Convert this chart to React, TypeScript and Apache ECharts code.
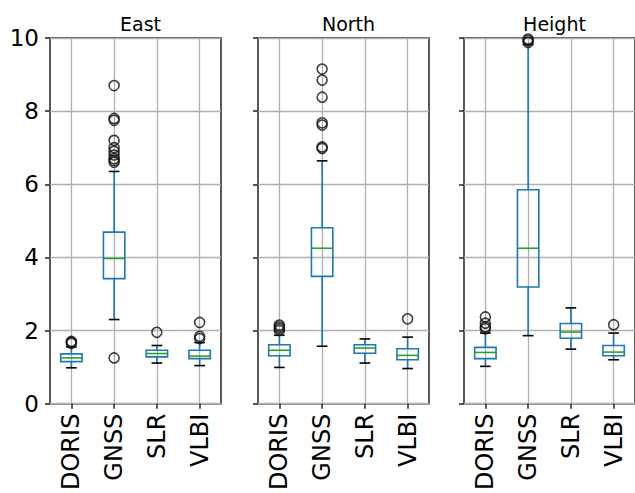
import React, { useEffect, useRef } from "react";
import * as echarts from "echarts";

const categories = ["DORIS", "GNSS", "SLR", "VLBI"];
const panelTitles = ["East", "North", "Height"];
const yTicks = { min: 0, max: 10, interval: 2 };

// [low whisker, Q1, median, Q3, high whisker]
const eastStats = [
  [0.98, 1.15, 1.25, 1.36, 1.55],
  [2.3, 3.42, 3.97, 4.69, 6.35],
  [1.11, 1.28, 1.37, 1.46, 1.59],
  [1.04, 1.23, 1.3, 1.46, 1.67],
];
const northStats = [
  [0.99, 1.31, 1.46, 1.61, 1.87],
  [1.57, 3.48, 4.25, 4.81, 6.64],
  [1.11, 1.38, 1.52, 1.61, 1.77],
  [0.96, 1.2, 1.32, 1.5, 1.82],
];
const heightStats = [
  [1.02, 1.23, 1.4, 1.54, 1.93],
  [1.86, 3.19, 4.25, 5.85, 9.82],
  [1.49, 1.79, 1.96, 2.19, 2.62],
  [1.2, 1.31, 1.41, 1.59, 1.93],
];

// [category index, value]
const eastOutliers = [
  [0, 1.65], [0, 1.68], [0, 1.7],
  [1, 1.25], [1, 6.6], [1, 6.65], [1, 6.7], [1, 6.8], [1, 6.9], [1, 7.0], [1, 7.2], [1, 7.75], [1, 7.8], [1, 8.7],
  [2, 1.95],
  [3, 1.78], [3, 1.84], [3, 2.22],
];
const northOutliers = [
  [0, 2.0], [0, 2.05], [0, 2.1], [0, 2.15],
  [1, 6.98], [1, 7.02], [1, 7.62], [1, 7.68], [1, 8.38], [1, 8.85], [1, 9.15],
  [3, 2.32],
];
const heightOutliers = [
  [0, 2.05], [0, 2.1], [0, 2.2], [0, 2.37],
  [1, 9.88], [1, 9.93], [1, 9.97],
  [3, 2.16],
];

const statsList = [eastStats, northStats, heightStats];
const outlierList = [eastOutliers, northOutliers, heightOutliers];

const FONT = "DejaVu Sans";
const BLUE = "#1f77b4";
const GREEN = "#2ca02c";
const GRIDLEFT = [50, 258, 464];
const GRIDW = 171;

export default function App() {
  const ref = useRef<HTMLDivElement>(null);
  useEffect(() => {
    if (!ref.current) return;
    const chart = echarts.init(ref.current, null, { renderer: "svg" });

    const renderBox = (params: any, api: any) => {
      const x = api.value(0);
      const low = api.coord([x, api.value(1)]);
      const q1 = api.coord([x, api.value(2)]);
      const med = api.coord([x, api.value(3)]);
      const q3 = api.coord([x, api.value(4)]);
      const high = api.coord([x, api.value(5)]);
      const band = api.size([1, 0])[0];
      const bw = band * 0.5;
      const cw = bw * 0.5;
      const cx = low[0];
      const lw = 1.6;
      return {
        type: "group",
        children: [
          { type: "line", shape: { x1: cx, y1: low[1], x2: cx, y2: q1[1] }, style: { stroke: BLUE, lineWidth: lw } },
          { type: "line", shape: { x1: cx, y1: q3[1], x2: cx, y2: high[1] }, style: { stroke: BLUE, lineWidth: lw } },
          { type: "line", shape: { x1: cx - cw / 2, y1: low[1], x2: cx + cw / 2, y2: low[1] }, style: { stroke: "#000", lineWidth: lw } },
          { type: "line", shape: { x1: cx - cw / 2, y1: high[1], x2: cx + cw / 2, y2: high[1] }, style: { stroke: "#000", lineWidth: lw } },
          { type: "rect", shape: { x: cx - bw / 2, y: q3[1], width: bw, height: q1[1] - q3[1] }, style: { stroke: BLUE, fill: "none", lineWidth: lw } },
          { type: "line", shape: { x1: cx - bw / 2, y1: med[1], x2: cx + bw / 2, y2: med[1] }, style: { stroke: GREEN, lineWidth: lw } },
        ],
      };
    };

    const grids: any[] = [];
    const xAxes: any[] = [];
    const yAxes: any[] = [];
    const series: any[] = [];
    const titles: any[] = [];

    panelTitles.forEach((t, i) => {
      grids.push({
        left: GRIDLEFT[i], width: GRIDW, top: 38, height: 366,
        show: true, borderColor: "#222", borderWidth: 1.5, backgroundColor: "transparent",
      });
      titles.push({
        text: t, left: GRIDLEFT[i] + GRIDW / 2, top: 9, textAlign: "center",
        textStyle: { fontFamily: FONT, fontSize: 19, fontWeight: "normal", color: "#000" },
      });
      xAxes.push({
        type: "category", gridIndex: i, data: categories, boundaryGap: true,
        axisLine: { show: false },
        axisTick: { show: true, alignWithLabel: true, length: 5, lineStyle: { color: "#222", width: 1.5 } },
        axisLabel: { rotate: 90, fontFamily: FONT, fontSize: 24, color: "#000", margin: 10 },
        splitLine: { show: false },
      });
      yAxes.push({
        type: "value", gridIndex: i, min: yTicks.min, max: yTicks.max, interval: yTicks.interval,
        axisLine: { show: false },
        axisTick: { show: true, length: 5, lineStyle: { color: "#222", width: 1.5 } },
        axisLabel: { show: i === 0, fontFamily: FONT, fontSize: 23, color: "#000", margin: 11 },
        splitLine: { show: true, lineStyle: { color: "#b0b0b0", width: 1.3 } },
      });
      series.push({
        type: "scatter", xAxisIndex: i, yAxisIndex: i, data: [], z: 0, silent: true,
        markLine: {
          silent: true, symbol: "none", label: { show: false }, z: 0,
          lineStyle: { color: "#b0b0b0", width: 1.3, type: "solid" },
          data: categories.map((c) => ({ xAxis: c })),
        },
      });
      series.push({
        type: "custom", xAxisIndex: i, yAxisIndex: i, z: 3,
        data: statsList[i].map((s, k) => [k, ...s]),
        encode: { x: 0, y: [1, 2, 3, 4, 5] },
        renderItem: renderBox,
      });
      series.push({
        type: "scatter", xAxisIndex: i, yAxisIndex: i, z: 4,
        symbol: "circle", symbolSize: 10,
        itemStyle: { color: "rgba(0,0,0,0)", borderColor: "#111", borderWidth: 1.6 },
        data: outlierList[i],
      });
    });

    chart.setOption({
      animation: false,
      backgroundColor: "#fff",
      title: titles,
      grid: grids,
      xAxis: xAxes,
      yAxis: yAxes,
      series,
    });
    return () => chart.dispose();
  }, []);
  return <div ref={ref} style={{ position: "fixed", left: 0, top: 0, width: 635, height: 493 }} />;
}
